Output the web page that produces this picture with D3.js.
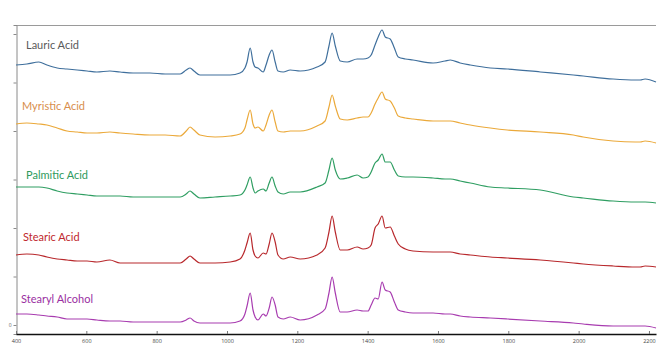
<!DOCTYPE html>
<html><head><meta charset="utf-8">
<script src="https://cdn.jsdelivr.net/npm/d3@7"></script>
<style>
html,body{margin:0;padding:0;background:#fff;}
svg{display:block;}
</style></head>
<body>
<svg id="chart" width="669" height="352"></svg>
<script>
// Raman shift (cm-1)
const wavenumbers = [400,431,465,488,517,545,574,602,630,667,696,733,781,824,867,884,895,906,923,966,1009,1037,1051,1057,1066,1074,1080,1088,1103,1111,1120,1128,1137,1145,1160,1180,1208,1256,1279,1290,1299,1308,1322,1342,1370,1387,1401,1410,1421,1430,1441,1450,1464,1476,1487,1507,1529,1586,1620,1635,1663,1692,1749,1797,1891,1985,2013,2098,2161,2175,2189,2220];

const lauric = [260,261,263,260,257,256,255,254,253,254,253,252,252,251,251,255,257,254,250,250,250,252,257,263,277,263,258,257,253,260,270,275,263,254,253,255,254,258,263,279,292,279,264,263,266,266,267,270,280,288,295,288,286,277,268,266,265,262,264,265,262,260,257,256,253,250,249,246,245,245,246,243];
const myristic = [201,202,201,200,197,194,193,192,192,193,192,191,190,190,189,194,198,195,190,188,189,191,197,205,215,201,197,198,194,200,210,215,203,194,193,194,194,199,204,218,230,219,206,205,207,208,208,212,221,227,233,226,224,217,209,207,206,204,204,204,202,200,197,195,193,190,188,184,183,183,184,182];
const palmitic = [138,138,138,137,134,132,131,130,129,129,129,128,128,128,128,131,134,131,127,128,129,130,135,140,148,137,132,134,136,134,142,148,139,133,131,133,133,138,142,155,167,155,146,147,150,147,148,153,162,165,171,163,163,155,149,148,148,147,146,146,144,142,138,137,135,128,127,124,123,123,123,122];
const stearic = [70,71,70,68,66,65,64,64,63,65,62,62,62,62,62,66,69,66,62,62,63,66,75,82,92,75,69,67,72,71,81,92,83,70,66,68,66,70,77,93,109,93,75,75,78,76,77,80,97,101,109,97,98,89,81,76,74,73,73,73,71,70,68,67,65,62,61,59,58,58,59,58];
const stearylAlcohol = [11,11,10,9,8,6,6,6,5,4,4,3,3,3,3,5,7,4,2,2,2,4,11,19,32,15,8,5,11,9,17,28,20,8,6,8,5,10,16,32,48,32,13,13,15,14,14,20,27,26,43,35,33,23,15,13,12,12,11,11,9,8,7,6,4,2,1,-1,-1,-1,-1,-3];

const seriesNames = ["Lauric Acid","Myristic Acid","Palmitic Acid","Stearic Acid","Stearyl Alcohol"];
const seriesValues = [lauric, myristic, palmitic, stearic, stearylAlcohol];
const lineColors = ["#3f6f9c","#eba93a","#2f9e62","#b8282c","#a83cb0"];
const labelColors = ["#5a5a5a","#d88e4c","#2e9a5c","#c0272d","#9a2fa2"];

const xTicks = [400,600,800,1000,1200,1400,1600,1800,2000,2200];
const yTicks = [0,48.5,97,145.5,194,242.5,291];
const yTickLabels = ["0","","","","","",""];

const svg = d3.select("#chart");
const mLeft = 16, mRight = 656, mTop = 25, mBottom = 334;

const x = d3.scaleLinear().domain([400,2220]).range([mLeft,mRight]);
const y = d3.scaleLinear().domain([-9,300]).range([mBottom,mTop]);

// top border
svg.append("line").attr("x1",mLeft).attr("x2",mRight).attr("y1",mTop+0.5).attr("y2",mTop+0.5)
  .attr("stroke","#9a9a9a").attr("stroke-width",1);

// y axis
const yAxis = d3.axisLeft(y).tickValues(yTicks).tickSize(3)
  .tickFormat((d,i)=>yTickLabels[i]);
const gy = svg.append("g").attr("transform",`translate(${mLeft+0.5},0)`).call(yAxis);
gy.select(".domain").attr("stroke","#8a8a8a");
gy.selectAll(".tick line").attr("stroke","#8a8a8a");
gy.selectAll(".tick text").attr("font-family","Open Sans").attr("font-size",5).attr("fill","#666").attr("x",-5);

// lines
const line = d3.line().x((d,i)=>x(wavenumbers[i])).y(d=>y(d)).curve(d3.curveMonotoneX);
seriesValues.forEach((vals,k)=>{
  svg.append("path").datum(vals).attr("d",line).attr("fill","none")
    .attr("stroke",lineColors[k]).attr("stroke-width",1.2).attr("stroke-linejoin","round");
});

// x axis
const xAxis = d3.axisBottom(x).tickValues(xTicks).tickSize(0).tickPadding(5).tickFormat(d3.format("d"));
const gx = svg.append("g").attr("transform",`translate(0,${mBottom})`).call(xAxis);
gx.select(".domain").attr("stroke","#111").attr("stroke-width",1.6);
gx.selectAll(".tick text").attr("font-family","Open Sans").attr("font-size",5.5).attr("fill","#444");
gx.selectAll(".tick").append("line").attr("y1",-3).attr("y2",0).attr("stroke","#777");

// labels
const labelPos = [[26,49],[22,110],[26,179],[23,241],[21,303]];
seriesNames.forEach((n,k)=>{
  svg.append("text").attr("x",labelPos[k][0]).attr("y",labelPos[k][1])
    .attr("font-family","Lato").attr("font-size",11).attr("fill",labelColors[k]).text(n);
});
</script>
</body></html>
